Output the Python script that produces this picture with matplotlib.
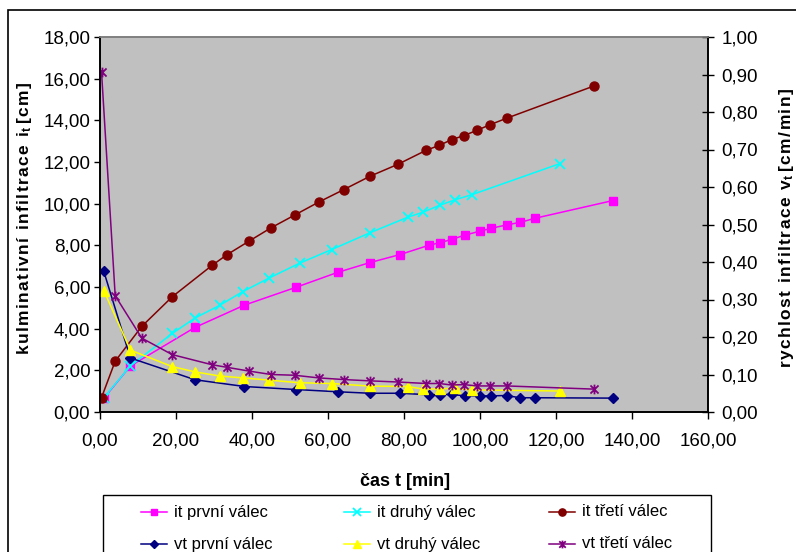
import matplotlib
matplotlib.use("Agg")
import matplotlib.pyplot as plt
from matplotlib.lines import Line2D
from matplotlib.patches import Rectangle
from matplotlib.path import Path
from matplotlib.ticker import FixedLocator, FuncFormatter

plt.rcParams['font.family'] = ['Liberation Sans', 'DejaVu Sans']
plt.rcParams['mathtext.fontset'] = 'custom'
plt.rcParams['mathtext.rm'] = 'Liberation Sans:bold'
plt.rcParams['mathtext.bf'] = 'Liberation Sans:bold'
plt.rcParams['mathtext.it'] = 'Liberation Sans:bold'

# ---- data ----
t1 = [1.0, 8.0, 25.0, 38.0, 51.5, 62.5, 71.0, 79.0, 86.5, 89.5, 92.5, 96.0, 100.0, 103.0, 107.0, 110.5, 114.5, 135.0]
i1 = [0.66, 2.21, 4.06, 5.13, 5.98, 6.70, 7.17, 7.56, 8.00, 8.13, 8.28, 8.49, 8.68, 8.82, 8.98, 9.10, 9.30, 10.15]
v1 = [0.375, 0.144, 0.086, 0.068, 0.060, 0.054, 0.050, 0.050, 0.046, 0.046, 0.047, 0.043, 0.043, 0.043, 0.044, 0.038, 0.038, 0.037]

t2 = [1.0, 8.0, 19.0, 25.0, 31.5, 37.5, 44.5, 52.5, 61.0, 71.0, 81.0, 85.0, 89.5, 93.5, 98.0, 121.0]
i2 = [0.69, 2.21, 3.77, 4.51, 5.12, 5.77, 6.43, 7.14, 7.80, 8.60, 9.35, 9.59, 9.93, 10.19, 10.44, 11.92]
v2 = [0.324, 0.165, 0.121, 0.107, 0.096, 0.091, 0.085, 0.078, 0.076, 0.069, 0.068, 0.061, 0.062, 0.063, 0.059, 0.056]

t3 = [0.4, 4.0, 11.0, 19.0, 29.5, 33.5, 39.3, 45.0, 51.2, 57.5, 64.2, 71.1, 78.4, 85.8, 89.3, 92.5, 95.8, 99.2, 102.5, 107.0, 130.0]
i3 = [0.69, 2.44, 4.11, 5.53, 7.04, 7.56, 8.21, 8.84, 9.45, 10.07, 10.68, 11.32, 11.89, 12.56, 12.80, 13.07, 13.27, 13.52, 13.78, 14.10, 15.65]
v3 = [0.907, 0.310, 0.197, 0.153, 0.126, 0.119, 0.109, 0.100, 0.098, 0.091, 0.0865, 0.083, 0.080, 0.076, 0.076, 0.072, 0.073, 0.0695, 0.0695, 0.0695, 0.061]

x_ticks = [0, 20, 40, 60, 80, 100, 120, 140, 160]
yl_ticks = [0, 2, 4, 6, 8, 10, 12, 14, 16, 18]
yr_ticks = [0.0, 0.1, 0.2, 0.3, 0.4, 0.5, 0.6, 0.7, 0.8, 0.9, 1.0]

labels = ["it první válec", "it druhý válec", "it třetí válec",
          "vt první válec", "vt druhý válec", "vt třetí válec"]

# ---- figure ----
W, H = 796, 552
fig = plt.figure(figsize=(W / 100, H / 100), dpi=100)

def fx(px):
    return px / W

def fy(py):
    return 1 - py / H

L, R, T, B = 100, 708, 37, 412
ax = fig.add_axes([fx(L), fy(B), fx(R) - fx(L), fy(T) - fy(B)])
ax.set_facecolor('#C0C0C0')
ax2 = ax.twinx()

star = Path([(-1, -1), (1, 1), (-1, 1), (1, -1), (0, -1.2), (0, 1.2)],
            [Path.MOVETO, Path.LINETO, Path.MOVETO, Path.LINETO, Path.MOVETO, Path.LINETO])

styles = [
    dict(color='#FF00FF', marker='s', ms=6, mfc='#FF00FF', mec='#FF00FF'),
    dict(color='#00FFFF', marker='x', ms=7.5, mew=1.3),
    dict(color='#800000', marker='o', ms=6.5, mfc='#800000', mec='#800000'),
    dict(color='#000080', marker='D', ms=5.5, mfc='#000080', mec='#000080'),
    dict(color='#FFFF00', marker='^', ms=7.5, mfc='#FFFF00', mec='#FFFF00'),
    dict(color='#800080', marker=star, ms=7, mew=1.3),
]

lw = 1.1
ax.plot(t1, i1, lw=lw, **styles[0])
ax.plot(t2, i2, lw=lw, **styles[1])
ax.plot(t3, i3, lw=lw, **styles[2])
ax2.plot(t1, v1, lw=lw, **styles[3])
ax2.plot(t2, v2, lw=lw, **styles[4])
ax2.plot(t3, v3, lw=lw, **styles[5])

ax.set_xlim(0, 160)
ax.set_ylim(0, 18)
ax2.set_ylim(0, 1)

fmt = FuncFormatter(lambda v, p: f"{v:.2f}".replace('.', ','))
ax.xaxis.set_major_locator(FixedLocator(x_ticks))
ax.yaxis.set_major_locator(FixedLocator(yl_ticks))
ax2.yaxis.set_major_locator(FixedLocator(yr_ticks))
ax.xaxis.set_major_formatter(fmt)
ax.yaxis.set_major_formatter(fmt)
ax2.yaxis.set_major_formatter(fmt)

fs = 13.5
ax.tick_params(axis='x', direction='out', length=5, width=1, labelsize=fs, pad=10, color='black')
ax.tick_params(axis='y', direction='out', length=4, width=1, labelsize=fs, pad=3, color='black')
ax2.tick_params(axis='y', direction='inout', length=9, width=1, labelsize=fs, pad=5, color='black')

for a in (ax, ax2):
    a.spines['top'].set_color('#808080')
    a.spines['left'].set_color('black')
    a.spines['right'].set_color('black')
    a.spines['bottom'].set_color('black')
    for s in a.spines.values():
        s.set_linewidth(1.2)

def spaced(s):
    return '\u200a'.join(list(s))

lab_fs = 12.5
fig.text(fx(25), fy(218), spaced("kulminativní infiltrace i") + r"$_{\mathbf{t}}$" + '\u2009' + spaced("[cm]"),
         rotation=90, ha='center', va='center', fontsize=lab_fs, fontweight='bold')
fig.text(fx(787), fy(228), spaced("rychlost infiltrace v") + r"$_{\mathbf{t}}$" + '\u2009' + spaced("[cm/min]"),
         rotation=90, ha='center', va='center', fontsize=lab_fs, fontweight='bold')
fig.text(fx(405), fy(481), "čas t [min]", ha='center', va='center', fontsize=13, fontweight='bold')

# outer chart frame
fig.patches.append(Rectangle((fx(8), fy(580)), fx(820) - fx(8), fy(10) - fy(580),
                             transform=fig.transFigure, fill=False, ec='black', lw=1.2))

# legend box
fig.patches.append(Rectangle((fx(103), fy(580)), fx(711) - fx(103), fy(495) - fy(580),
                             transform=fig.transFigure, fill=False, ec='black', lw=1.0))
col_x = [141, 344, 549]
row_y = [512, 544]
order = [(0, 0), (0, 1), (0, 2), (1, 0), (1, 1), (1, 2)]
for k, (r, c) in enumerate(order):
    x0 = col_x[c]
    y0 = row_y[r]
    st = dict(styles[k])
    ms = st.pop('ms')
    ln = Line2D([fx(x0), fx(x0 + 26)], [fy(y0), fy(y0)], transform=fig.transFigure,
                lw=lw, color=st['color'])
    fig.lines.append(ln)
    mk = Line2D([fx(x0 + 13)], [fy(y0)], transform=fig.transFigure, lw=0,
                ms=ms * 0.8, **st)
    fig.lines.append(mk)
    fig.text(fx(x0 + 33), fy(y0), labels[k], ha='left', va='center', fontsize=12)

fig.savefig("out.png", dpi=100)
